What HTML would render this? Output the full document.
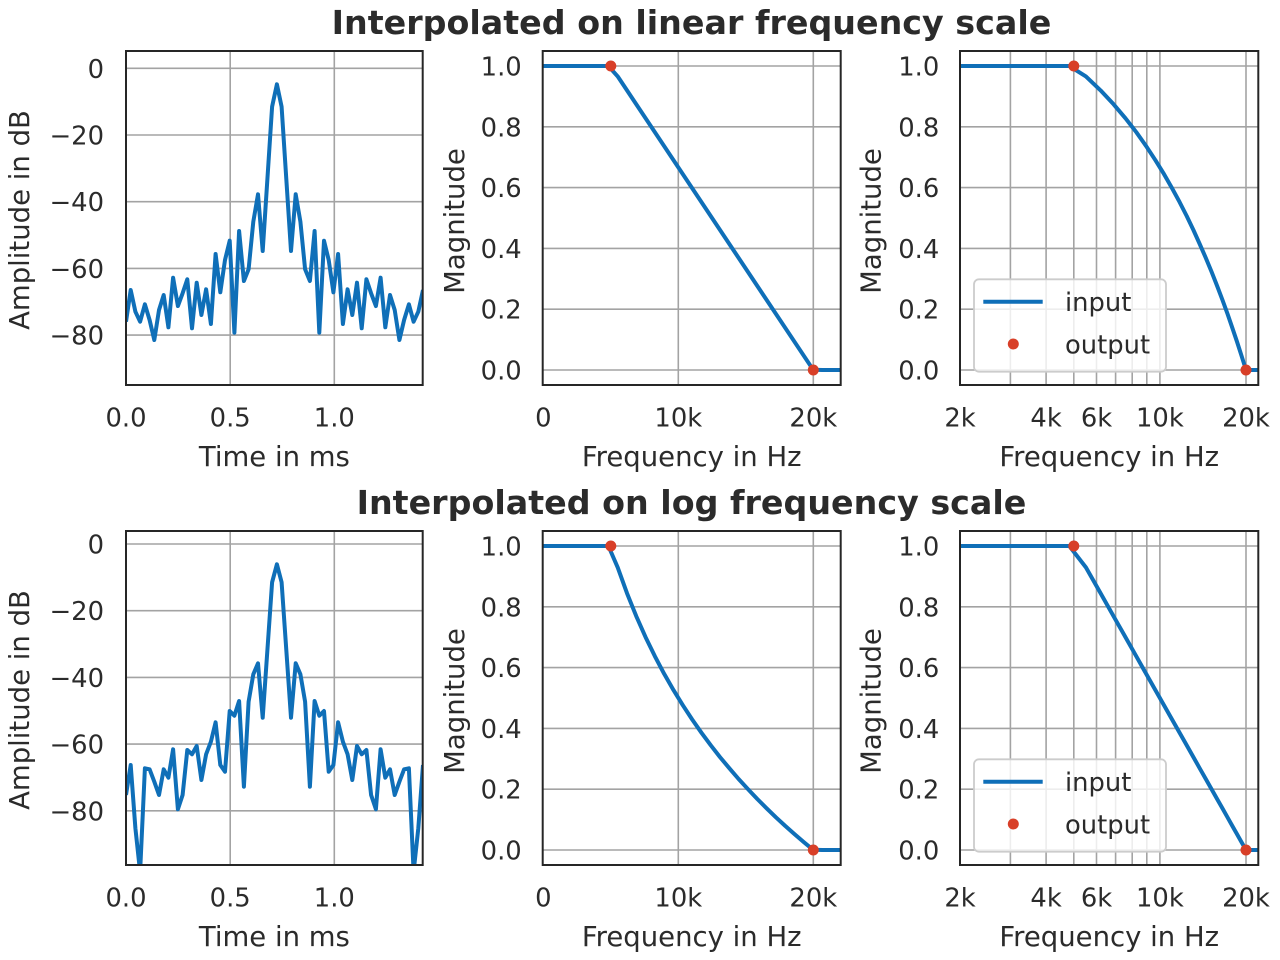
<!DOCTYPE html>
<html>
<head>
<meta charset="utf-8">
<style>
  html,body{margin:0;padding:0;background:#ffffff;}
  svg{display:block;}
  text{font-family:"DejaVu Sans","Liberation Sans",sans-serif;fill:#2b2b2b;}
  .tick{font-size:25.8px;}
  .lab{font-size:27.5px;}
  .title{font-size:33.3px;font-weight:bold;}
  .grid{stroke:#a3a3a3;stroke-width:1.6;fill:none;}
  .spine{stroke:#262626;stroke-width:2;fill:none;}
  .ser{stroke:#0f6fb8;stroke-width:4;fill:none;stroke-linejoin:round;stroke-linecap:butt;}
  .dot{fill:#d83f28;}
</style>
</head>
<body>
<svg width="1280" height="960" viewBox="0 0 1280 960" xmlns="http://www.w3.org/2000/svg">
  <defs>
    <clipPath id="c1"><rect x="126" y="51" width="296.7" height="334"/></clipPath>
    <clipPath id="c2"><rect x="542.7" y="51" width="298" height="334"/></clipPath>
    <clipPath id="c3"><rect x="960" y="51" width="298.3" height="334"/></clipPath>
    <clipPath id="c4"><rect x="126" y="531" width="296.7" height="334"/></clipPath>
    <clipPath id="c5"><rect x="542.7" y="531" width="298" height="334"/></clipPath>
    <clipPath id="c6"><rect x="960" y="531" width="298.3" height="334"/></clipPath>
  </defs>

  <!-- Titles -->
  <text class="title" x="691.5" y="34" text-anchor="middle">Interpolated on linear frequency scale</text>
  <text class="title" x="691.5" y="514" text-anchor="middle">Interpolated on log frequency scale</text>

  <!-- ================= TOP ROW ================= -->
  <g>
    <g class="grid">
      <line x1="126" y1="68.3" x2="422.7" y2="68.3"/>
      <line x1="126" y1="135" x2="422.7" y2="135"/>
      <line x1="126" y1="201.7" x2="422.7" y2="201.7"/>
      <line x1="126" y1="268.4" x2="422.7" y2="268.4"/>
      <line x1="126" y1="335.1" x2="422.7" y2="335.1"/>
      <line x1="230.2" y1="51" x2="230.2" y2="385"/>
      <line x1="334.3" y1="51" x2="334.3" y2="385"/>
    </g>
    <polyline class="ser" clip-path="url(#c1)" points="126.0,321.7 130.7,290 135.4,311.7 140.1,321.7 144.9,304.3 149.6,320 154.3,340 159.0,310 163.7,295 168.4,327.3 173.1,277.7 177.9,306 182.6,293.3 187.3,279.3 192.0,328.3 196.7,282.7 201.4,315 206.1,289.3 210.9,324 215.6,254 220.3,292.3 225.0,260 229.7,240.7 234.4,332.7 239.1,231 243.9,281 248.6,269.3 253.3,221.7 258.0,194.3 262.7,251 267.4,179 272.1,106.7 276.9,84.3 281.6,106.7 286.3,179 291.0,251 295.7,194.3 300.4,221.7 305.1,269.3 309.9,281 314.6,231 319.3,332.7 324.0,240.7 328.7,260 333.4,292.3 338.1,254 342.9,324 347.6,289.3 352.3,315 357.0,282.7 361.7,328.3 366.4,279.3 371.1,293.3 375.9,306 380.6,277.7 385.3,327.3 390.0,295 394.7,310 399.4,340 404.1,320 408.9,304.3 413.6,321.7 418.3,311.7 423.0,290"/>
    <rect class="spine" x="126" y="51" width="296.7" height="334"/>
    <g class="tick" text-anchor="end">
      <text x="104" y="77.8">0</text>
      <text x="104" y="144.5">−20</text>
      <text x="104" y="211.2">−40</text>
      <text x="104" y="277.9">−60</text>
      <text x="104" y="344.6">−80</text>
    </g>
    <g class="tick" text-anchor="middle">
      <text x="126" y="426.7">0.0</text>
      <text x="230.2" y="426.7">0.5</text>
      <text x="334.3" y="426.7">1.0</text>
    </g>
    <text class="lab" x="274.4" y="466" text-anchor="middle">Time in ms</text>
    <text class="lab" transform="translate(28.8,220) rotate(-90)" text-anchor="middle">Amplitude in dB</text>
  </g>

  <g>
    <g class="grid">
      <line x1="542.7" y1="66" x2="840.7" y2="66"/>
      <line x1="542.7" y1="126.8" x2="840.7" y2="126.8"/>
      <line x1="542.7" y1="187.6" x2="840.7" y2="187.6"/>
      <line x1="542.7" y1="248.4" x2="840.7" y2="248.4"/>
      <line x1="542.7" y1="309.2" x2="840.7" y2="309.2"/>
      <line x1="542.7" y1="370" x2="840.7" y2="370"/>
      <line x1="678.3" y1="51" x2="678.3" y2="385"/>
      <line x1="813.3" y1="51" x2="813.3" y2="385"/>
    </g>
    <g clip-path="url(#c2)">
      <polyline class="ser" points="542,66 608.4,66 617.7,76.4 813.1,369.7 822.4,370 842,370"/>
      <circle class="dot" cx="610.8" cy="66" r="5.5"/>
      <circle class="dot" cx="813.3" cy="370" r="5.5"/>
    </g>
    <rect class="spine" x="542.7" y="51" width="298" height="334"/>
    <g class="tick" text-anchor="end">
      <text x="521.7" y="75.5">1.0</text>
      <text x="521.7" y="136.3">0.8</text>
      <text x="521.7" y="197.1">0.6</text>
      <text x="521.7" y="257.9">0.4</text>
      <text x="521.7" y="318.7">0.2</text>
      <text x="521.7" y="379.5">0.0</text>
    </g>
    <g class="tick" text-anchor="middle">
      <text x="543.3" y="426.7">0</text>
      <text x="678.3" y="426.7">10k</text>
      <text x="813.3" y="426.7">20k</text>
    </g>
    <text class="lab" x="691.7" y="466" text-anchor="middle">Frequency in Hz</text>
    <text class="lab" transform="translate(464,221) rotate(-90)" text-anchor="middle">Magnitude</text>
  </g>

  <g>
    <g class="grid">
      <line x1="960" y1="66" x2="1258.3" y2="66"/>
      <line x1="960" y1="126.8" x2="1258.3" y2="126.8"/>
      <line x1="960" y1="187.6" x2="1258.3" y2="187.6"/>
      <line x1="960" y1="248.4" x2="1258.3" y2="248.4"/>
      <line x1="960" y1="309.2" x2="1258.3" y2="309.2"/>
      <line x1="960" y1="370" x2="1258.3" y2="370"/>
      <line x1="1010.4" y1="51" x2="1010.4" y2="385"/>
      <line x1="1046.1" y1="51" x2="1046.1" y2="385"/>
      <line x1="1073.8" y1="51" x2="1073.8" y2="385"/>
      <line x1="1096.5" y1="51" x2="1096.5" y2="385"/>
      <line x1="1115.6" y1="51" x2="1115.6" y2="385"/>
      <line x1="1132.2" y1="51" x2="1132.2" y2="385"/>
      <line x1="1146.8" y1="51" x2="1146.8" y2="385"/>
      <line x1="1159.9" y1="51" x2="1159.9" y2="385"/>
      <line x1="1246" y1="51" x2="1246" y2="385"/>
    </g>
    <g clip-path="url(#c3)">
      <polyline class="ser" points="958,66 1069.3,66 1085.9,76.4 1100.6,90.4 1113.6,104.3 1125.5,118.3 1136.3,132.2 1146.2,146.2 1155.4,160.2 1164.0,174.1 1172.0,188.1 1179.6,202.1 1186.7,216.0 1193.4,230.0 1199.7,244.0 1205.8,257.9 1211.6,271.9 1217.1,285.9 1222.4,299.8 1227.5,313.8 1232.3,327.8 1237.0,341.7 1241.5,355.7 1245.9,369.7 1250.1,370 1260,370"/>
      <circle class="dot" cx="1073.8" cy="66" r="5.5"/>
      <circle class="dot" cx="1246" cy="370" r="5.5"/>
    </g>
    <rect class="spine" x="960" y="51" width="298.3" height="334"/>
    <g class="tick" text-anchor="end">
      <text x="939.3" y="75.5">1.0</text>
      <text x="939.3" y="136.3">0.8</text>
      <text x="939.3" y="197.1">0.6</text>
      <text x="939.3" y="257.9">0.4</text>
      <text x="939.3" y="318.7">0.2</text>
      <text x="939.3" y="379.5">0.0</text>
    </g>
    <g class="tick" text-anchor="middle">
      <text x="960" y="426.7">2k</text>
      <text x="1046.1" y="426.7">4k</text>
      <text x="1096.5" y="426.7">6k</text>
      <text x="1159.9" y="426.7">10k</text>
      <text x="1246" y="426.7">20k</text>
    </g>
    <text class="lab" x="1109.2" y="466" text-anchor="middle">Frequency in Hz</text>
    <text class="lab" transform="translate(880.5,221) rotate(-90)" text-anchor="middle">Magnitude</text>
    <rect x="974" y="279.3" width="192" height="92.4" rx="5" ry="5" fill="#ffffff" fill-opacity="0.8" stroke="#cccccc" stroke-width="1.8"/>
    <line x1="983.3" y1="301.7" x2="1042.7" y2="301.7" class="ser"/>
    <circle class="dot" cx="1013.3" cy="344" r="5.5"/>
    <text class="tick" x="1065" y="311.2">input</text>
    <text class="tick" x="1065" y="353.5">output</text>
  </g>

  <!-- ================= BOTTOM ROW ================= -->
  <g>
    <g class="grid">
      <line x1="126" y1="544" x2="422.7" y2="544"/>
      <line x1="126" y1="610.7" x2="422.7" y2="610.7"/>
      <line x1="126" y1="677.4" x2="422.7" y2="677.4"/>
      <line x1="126" y1="744.1" x2="422.7" y2="744.1"/>
      <line x1="126" y1="810.8" x2="422.7" y2="810.8"/>
      <line x1="230.2" y1="531" x2="230.2" y2="865"/>
      <line x1="334.3" y1="531" x2="334.3" y2="865"/>
    </g>
    <polyline class="ser" clip-path="url(#c4)" points="126.0,795 130.7,765 135.4,828.3 140.1,872 144.9,768.3 149.6,769.3 154.3,781.7 159.0,795 163.7,769.3 168.4,777.7 173.1,749.3 177.9,809.3 182.6,795 187.3,750 192.0,754.3 196.7,746 201.4,780 206.1,754.3 210.9,741.7 215.6,722.3 220.3,765 225.0,771.7 229.7,711 234.4,715.7 239.1,701 243.9,786.7 248.6,701.7 253.3,674.3 258.0,663.3 262.7,717.7 267.4,650 272.1,582.3 276.9,564.3 281.6,582.3 286.3,650 291.0,717.7 295.7,663.3 300.4,674.3 305.1,701.7 309.9,786.7 314.6,701 319.3,715.7 324.0,711 328.7,771.7 333.4,765 338.1,722.3 342.9,741.7 347.6,754.3 352.3,780 357.0,746 361.7,754.3 366.4,750 371.1,795 375.9,809.3 380.6,749.3 385.3,777.7 390.0,769.3 394.7,795 399.4,781.7 404.1,769.3 408.9,768.3 413.6,872 418.3,828.3 423.0,765"/>
    <rect class="spine" x="126" y="531" width="296.7" height="334"/>
    <g class="tick" text-anchor="end">
      <text x="104" y="553.5">0</text>
      <text x="104" y="620.2">−20</text>
      <text x="104" y="686.9">−40</text>
      <text x="104" y="753.6">−60</text>
      <text x="104" y="820.3">−80</text>
    </g>
    <g class="tick" text-anchor="middle">
      <text x="126" y="906.7">0.0</text>
      <text x="230.2" y="906.7">0.5</text>
      <text x="334.3" y="906.7">1.0</text>
    </g>
    <text class="lab" x="274.4" y="946" text-anchor="middle">Time in ms</text>
    <text class="lab" transform="translate(28.8,700) rotate(-90)" text-anchor="middle">Amplitude in dB</text>
  </g>

  <g>
    <g class="grid">
      <line x1="542.7" y1="546" x2="840.7" y2="546"/>
      <line x1="542.7" y1="606.8" x2="840.7" y2="606.8"/>
      <line x1="542.7" y1="667.6" x2="840.7" y2="667.6"/>
      <line x1="542.7" y1="728.4" x2="840.7" y2="728.4"/>
      <line x1="542.7" y1="789.2" x2="840.7" y2="789.2"/>
      <line x1="542.7" y1="850" x2="840.7" y2="850"/>
      <line x1="678.3" y1="531" x2="678.3" y2="865"/>
      <line x1="813.3" y1="531" x2="813.3" y2="865"/>
    </g>
    <g clip-path="url(#c5)">
      <polyline class="ser" points="542,546 608.4,546 617.7,567.4 627.0,593.2 636.3,616.3 645.6,637.2 654.9,656.3 664.2,673.9 673.5,690.1 682.8,705.2 692.1,719.4 701.4,732.7 710.7,745.2 720.0,757.1 729.4,768.3 738.6,779.0 748.0,789.2 757.3,799.0 766.6,808.3 775.9,817.3 785.2,825.9 794.5,834.1 803.8,842.1 813.1,849.8 822.4,850 842,850"/>
      <circle class="dot" cx="610.8" cy="546" r="5.5"/>
      <circle class="dot" cx="813.3" cy="850" r="5.5"/>
    </g>
    <rect class="spine" x="542.7" y="531" width="298" height="334"/>
    <g class="tick" text-anchor="end">
      <text x="521.7" y="555.5">1.0</text>
      <text x="521.7" y="616.3">0.8</text>
      <text x="521.7" y="677.1">0.6</text>
      <text x="521.7" y="737.9">0.4</text>
      <text x="521.7" y="798.7">0.2</text>
      <text x="521.7" y="859.5">0.0</text>
    </g>
    <g class="tick" text-anchor="middle">
      <text x="543.3" y="906.7">0</text>
      <text x="678.3" y="906.7">10k</text>
      <text x="813.3" y="906.7">20k</text>
    </g>
    <text class="lab" x="691.7" y="946" text-anchor="middle">Frequency in Hz</text>
    <text class="lab" transform="translate(464,701) rotate(-90)" text-anchor="middle">Magnitude</text>
  </g>

  <g>
    <g class="grid">
      <line x1="960" y1="546" x2="1258.3" y2="546"/>
      <line x1="960" y1="606.8" x2="1258.3" y2="606.8"/>
      <line x1="960" y1="667.6" x2="1258.3" y2="667.6"/>
      <line x1="960" y1="728.4" x2="1258.3" y2="728.4"/>
      <line x1="960" y1="789.2" x2="1258.3" y2="789.2"/>
      <line x1="960" y1="850" x2="1258.3" y2="850"/>
      <line x1="1010.4" y1="531" x2="1010.4" y2="865"/>
      <line x1="1046.1" y1="531" x2="1046.1" y2="865"/>
      <line x1="1073.8" y1="531" x2="1073.8" y2="865"/>
      <line x1="1096.5" y1="531" x2="1096.5" y2="865"/>
      <line x1="1115.6" y1="531" x2="1115.6" y2="865"/>
      <line x1="1132.2" y1="531" x2="1132.2" y2="865"/>
      <line x1="1146.8" y1="531" x2="1146.8" y2="865"/>
      <line x1="1159.9" y1="531" x2="1159.9" y2="865"/>
      <line x1="1246" y1="531" x2="1246" y2="865"/>
    </g>
    <g clip-path="url(#c6)">
      <polyline class="ser" points="958,546 1069.3,546 1085.9,567.4 1100.6,593.2 1113.6,616.3 1125.5,637.2 1136.3,656.3 1146.2,673.9 1155.4,690.1 1164.0,705.2 1172.0,719.4 1179.6,732.7 1186.7,745.2 1193.4,757.1 1199.7,768.3 1205.8,779.0 1211.6,789.2 1217.1,799.0 1222.4,808.3 1227.5,817.3 1232.3,825.9 1237.0,834.1 1241.5,842.1 1245.9,849.8 1250.1,850 1260,850"/>
      <circle class="dot" cx="1073.8" cy="546" r="5.5"/>
      <circle class="dot" cx="1246" cy="850" r="5.5"/>
    </g>
    <rect class="spine" x="960" y="531" width="298.3" height="334"/>
    <g class="tick" text-anchor="end">
      <text x="939.3" y="555.5">1.0</text>
      <text x="939.3" y="616.3">0.8</text>
      <text x="939.3" y="677.1">0.6</text>
      <text x="939.3" y="737.9">0.4</text>
      <text x="939.3" y="798.7">0.2</text>
      <text x="939.3" y="859.5">0.0</text>
    </g>
    <g class="tick" text-anchor="middle">
      <text x="960" y="906.7">2k</text>
      <text x="1046.1" y="906.7">4k</text>
      <text x="1096.5" y="906.7">6k</text>
      <text x="1159.9" y="906.7">10k</text>
      <text x="1246" y="906.7">20k</text>
    </g>
    <text class="lab" x="1109.2" y="946" text-anchor="middle">Frequency in Hz</text>
    <text class="lab" transform="translate(880.5,701) rotate(-90)" text-anchor="middle">Magnitude</text>
    <rect x="974" y="759.3" width="192" height="92.4" rx="5" ry="5" fill="#ffffff" fill-opacity="0.8" stroke="#cccccc" stroke-width="1.8"/>
    <line x1="983.3" y1="781.7" x2="1042.7" y2="781.7" class="ser"/>
    <circle class="dot" cx="1013.3" cy="824" r="5.5"/>
    <text class="tick" x="1065" y="791.2">input</text>
    <text class="tick" x="1065" y="833.5">output</text>
  </g>
</svg>
</body>
</html>
